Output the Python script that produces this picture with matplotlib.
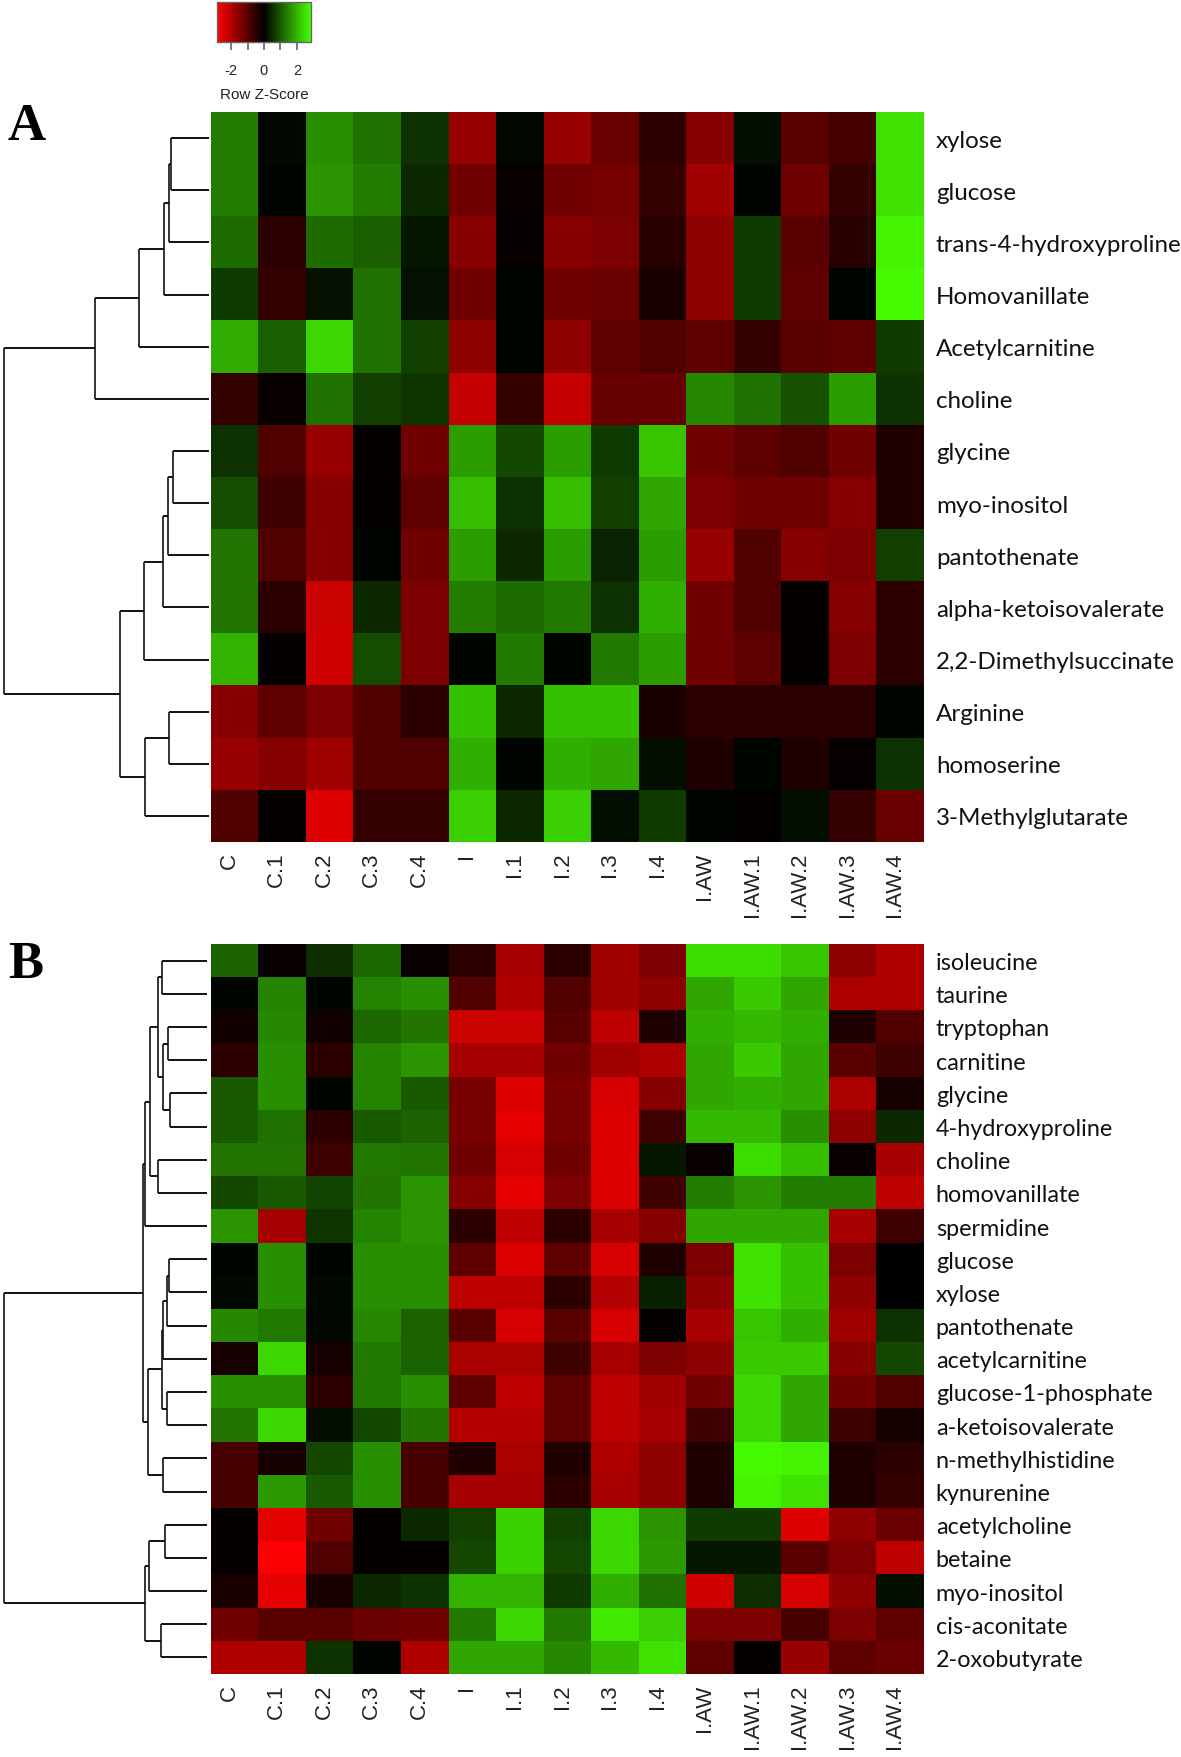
import numpy as np
import matplotlib
matplotlib.use("Agg")
import matplotlib.pyplot as plt
from matplotlib.colors import LinearSegmentedColormap, Normalize
import matplotlib.cm as cm

# ---------------- data ----------------
columns = ["C", "C.1", "C.2", "C.3", "C.4", "I", "I.1", "I.2", "I.3", "I.4",
           "I.AW", "I.AW.1", "I.AW.2", "I.AW.3", "I.AW.4"]

rows_a = ["xylose", "glucose", "trans-4-hydroxyproline", "Homovanillate",
          "Acetylcarnitine", "choline", "glycine", "myo-inositol", "pantothenate",
          "alpha-ketoisovalerate", "2,2-Dimethylsuccinate", "Arginine",
          "homoserine", "3-Methylglutarate"]

z_a = [
    [1.4, 0.1, 1.6, 1.25, 0.55, -1.7, 0.08, -1.7, -1.2, -0.5, -1.5, 0.15, -1.0, -0.8, 2.5],
    [1.4, 0.05, 1.65, 1.4, 0.45, -1.25, -0.1, -1.25, -1.35, -0.6, -1.8, 0.05, -1.25, -0.6, 2.5],
    [1.2, -0.5, 1.2, 1.05, 0.25, -1.5, -0.08, -1.5, -1.4, -0.45, -1.6, 0.65, -1.0, -0.45, 2.7],
    [0.65, -0.6, 0.2, 1.25, 0.2, -1.25, 0.05, -1.25, -1.2, -0.3, -1.6, 0.65, -1.05, 0.05, 2.8],
    [1.9, 1.05, 2.4, 1.25, 0.7, -1.6, 0.05, -1.6, -1.05, -0.9, -1.05, -0.6, -1.0, -1.05, 0.65],
    [-0.6, -0.1, 1.25, 0.7, 0.6, -2.2, -0.6, -2.2, -1.15, -1.15, 1.5, 1.25, 0.9, 1.75, 0.55],
    [0.55, -0.9, -1.7, -0.05, -1.25, 1.75, 0.8, 1.75, 0.65, 2.2, -1.25, -1.05, -0.9, -1.25, -0.35],
    [0.85, -0.7, -1.5, -0.05, -1.05, 2.1, 0.55, 2.1, 0.7, 1.85, -1.4, -1.25, -1.25, -1.5, -0.35],
    [1.3, -0.9, -1.5, 0.05, -1.25, 1.75, 0.45, 1.75, 0.4, 1.75, -1.7, -0.9, -1.5, -1.4, 0.7],
    [1.3, -0.5, -2.25, 0.45, -1.4, 1.4, 1.2, 1.35, 0.55, 1.95, -1.25, -0.9, -0.05, -1.5, -0.5],
    [2.0, -0.05, -2.3, 0.85, -1.4, 0.05, 1.35, 0.05, 1.35, 1.75, -1.25, -1.05, -0.05, -1.4, -0.5],
    [-1.5, -1.05, -1.4, -0.9, -0.5, 2.15, 0.45, 2.15, 2.15, -0.3, -0.5, -0.5, -0.5, -0.5, 0.05],
    [-1.7, -1.5, -1.8, -0.9, -0.9, 1.95, 0.05, 1.95, 1.85, 0.15, -0.35, 0.05, -0.35, -0.08, 0.55],
    [-0.9, -0.05, -2.45, -0.6, -0.6, 2.3, 0.45, 2.3, 0.15, 0.65, 0.05, -0.05, 0.15, -0.6, -1.2],
]

# row dendrogram A: (child, child, height); leaves 0..13, merge k -> 14+k
merges_a = [
    (0, 1, 38), (14, 2, 40), (15, 3, 45), (16, 4, 70), (17, 5, 114),
    (6, 7, 36), (19, 8, 41), (20, 9, 46), (21, 10, 65),
    (11, 12, 40), (23, 13, 64), (22, 24, 89), (18, 25, 205),
]

rows_b = ["isoleucine", "taurine", "tryptophan", "carnitine", "glycine",
          "4-hydroxyproline", "choline", "homovanillate", "spermidine", "glucose",
          "xylose", "pantothenate", "acetylcarnitine", "glucose-1-phosphate",
          "a-ketoisovalerate", "n-methylhistidine", "kynurenine", "acetylcholine",
          "betaine", "myo-inositol", "cis-aconitate", "2-oxobutyrate"]

z_b = [
    [1.1, -0.1, 0.5, 1.15, -0.1, -0.5, -1.85, -0.5, -1.8, -1.4, 2.45, 2.45, 2.2, -1.6, -1.95],
    [0.05, 1.45, 0.05, 1.45, 1.6, -0.9, -1.95, -0.9, -1.8, -1.6, 1.85, 2.25, 1.85, -1.95, -1.95],
    [-0.2, 1.5, -0.2, 1.15, 1.3, -2.25, -2.25, -1.0, -2.1, -0.35, 1.95, 2.05, 1.95, -0.35, -0.9],
    [-0.5, 1.6, -0.5, 1.45, 1.65, -1.85, -1.85, -1.25, -1.8, -1.95, 1.85, 2.25, 1.85, -1.0, -0.7],
    [1.0, 1.6, 0.05, 1.45, 1.0, -1.35, -2.45, -1.35, -2.4, -1.5, 1.85, 1.95, 1.85, -1.9, -0.25],
    [1.0, 1.25, -0.5, 1.0, 1.1, -1.35, -2.55, -1.35, -2.45, -0.7, 2.05, 2.05, 1.6, -1.6, 0.45],
    [1.3, 1.3, -0.7, 1.35, 1.3, -1.25, -2.4, -1.25, -2.45, 0.25, -0.1, 2.45, 2.15, -0.1, -1.85],
    [0.8, 1.0, 0.75, 1.3, 1.65, -1.5, -2.55, -1.4, -2.45, -0.7, 1.4, 1.65, 1.4, 1.4, -2.1],
    [1.65, -1.85, 0.6, 1.45, 1.65, -0.5, -2.1, -0.5, -1.85, -1.5, 1.85, 1.85, 1.85, -1.85, -0.7],
    [0.05, 1.6, 0.05, 1.6, 1.6, -1.05, -2.45, -1.05, -2.4, -0.35, -1.4, 2.5, 2.15, -1.4, -0.03],
    [0.1, 1.6, 0.1, 1.6, 1.6, -2.1, -2.1, -0.5, -2.0, 0.35, -1.6, 2.5, 2.15, -1.6, -0.03],
    [1.5, 1.35, 0.1, 1.5, 1.1, -1.0, -2.4, -1.0, -2.4, -0.05, -1.85, 2.2, 1.95, -1.8, 0.55],
    [-0.25, 2.4, -0.25, 1.35, 1.1, -1.9, -1.9, -0.7, -1.85, -1.4, -1.6, 2.25, 2.25, -1.5, 0.8],
    [1.6, 1.6, -0.5, 1.35, 1.6, -1.05, -2.1, -1.05, -2.1, -1.8, -1.25, 2.4, 1.85, -1.25, -0.9],
    [1.3, 2.4, 0.15, 0.8, 1.3, -2.0, -2.0, -1.05, -2.1, -1.85, -0.7, 2.4, 1.85, -0.7, -0.25],
    [-0.8, -0.25, 0.8, 1.6, -0.8, -0.35, -1.9, -0.35, -1.95, -1.6, -0.35, 2.8, 2.7, -0.35, -0.5],
    [-0.8, 1.7, 1.0, 1.6, -0.8, -1.85, -1.85, -0.5, -1.85, -1.6, -0.35, 2.7, 2.5, -0.35, -0.6],
    [-0.05, -2.55, -1.25, -0.05, 0.45, 0.7, 2.35, 0.7, 2.4, 1.65, 0.65, 0.65, -2.45, -1.6, -1.2],
    [-0.05, -2.8, -0.9, -0.05, -0.05, 0.8, 2.35, 0.8, 2.4, 1.7, 0.25, 0.25, -1.0, -1.4, -2.1],
    [-0.3, -2.55, -0.3, 0.45, 0.55, 2.0, 2.0, 0.65, 1.95, 1.25, -2.3, 0.5, -2.4, -1.6, 0.15],
    [-1.25, -1.0, -1.0, -1.2, -1.25, 1.35, 2.4, 1.35, 2.6, 2.3, -1.4, -1.4, -0.8, -1.4, -1.05],
    [-1.95, -1.95, 0.55, 0.05, -1.95, 1.85, 1.85, 1.5, 2.05, 2.5, -1.05, -0.05, -1.7, -1.05, -1.2],
]

# row dendrogram B: leaves 0..21, merge k -> 22+k
merges_b = [
    (0, 1, 45), (2, 3, 39), (4, 5, 37), (23, 24, 44), (22, 25, 49),
    (6, 7, 49), (26, 27, 57), (28, 8, 62),
    (9, 10, 38), (30, 11, 40), (31, 12, 44), (13, 14, 40), (32, 33, 45),
    (15, 16, 44), (34, 35, 59), (29, 36, 64),
    (17, 18, 42), (38, 19, 58), (20, 21, 46), (39, 40, 62), (37, 41, 203),
]

colorbar_ticks = [-2, -1, 0, 1, 2]
colorbar_ticklabels = ["-2", "", "0", "", "2"]
zmax = 2.85

# ---------------- styling ----------------
W, H = 1181, 1758
fig = plt.figure(figsize=(W / 100, H / 100), dpi=100)
cmap = LinearSegmentedColormap.from_list("redgreen", ["#FF0000", "#000000", "#48FF00"])
norm = Normalize(-zmax, zmax)

LABEL_FONT = ["Lato", "DejaVu Sans"]
COL_FONT = ["Liberation Sans", "DejaVu Sans"]


def fx(px):
    return px / W


def fy(px):
    return 1 - px / H


def draw_dendrogram(ax, merges, n):
    ys = {i: i + 0.5 for i in range(n)}
    hs = {i: 0.0 for i in range(n)}
    for k, (a, b, h) in enumerate(merges):
        for c in (a, b):
            ax.plot([hs[c], h], [ys[c], ys[c]], color="#111111", lw=1.4,
                    solid_capstyle="butt")
        ax.plot([h, h], [ys[a], ys[b]], color="#111111", lw=1.2,
                solid_capstyle="butt")
        ys[n + k] = (ys[a] + ys[b]) / 2
        hs[n + k] = h
    ax.set_ylim(n, 0)
    ax.axis("off")


def draw_panel(top_px, bottom_px, rows, z, merges, leaf_end_px, label_size):
    ax = fig.add_axes([fx(211), fy(bottom_px), fx(924) - fx(211), (bottom_px - top_px) / H])
    ax.imshow(np.array(z), cmap=cmap, norm=norm, aspect="auto", interpolation="nearest")
    for s in ax.spines.values():
        s.set_visible(False)
    ax.set_yticks(range(len(rows)))
    ax.set_yticklabels(rows, fontfamily=LABEL_FONT, fontsize=label_size, color="#111111")
    ax.yaxis.tick_right()
    ax.tick_params(axis="y", length=0, pad=8.5)
    ax.set_xticks(range(len(columns)))
    ax.set_xticklabels(columns, rotation=90, rotation_mode="anchor", ha="right",
                       va="baseline", fontfamily=COL_FONT, fontsize=16, color="#222222")
    ax.tick_params(axis="x", length=0, pad=7)

    dax = fig.add_axes([0, fy(bottom_px), fx(leaf_end_px), (bottom_px - top_px) / H])
    draw_dendrogram(dax, merges, len(rows))
    dax.set_xlim(leaf_end_px, 0)
    return ax


draw_panel(113, 843, rows_a, z_a, merges_a, 209, 17.4)
draw_panel(945, 1675, rows_b, z_b, merges_b, 207, 16.8)

# colour key
cax = fig.add_axes([fx(217), fy(43), fx(311) - fx(217), 40 / H])
sm = cm.ScalarMappable(norm=norm, cmap=cmap)
cb = fig.colorbar(sm, cax=cax, orientation="horizontal", ticks=colorbar_ticks)
cb.ax.set_xticklabels(colorbar_ticklabels, fontfamily=COL_FONT)
cb.ax.tick_params(length=6, width=1.2, color="#666666", labelsize=10.5,
                  labelcolor="#222222", pad=9)
cb.outline.set_edgecolor("#666666")
cb.outline.set_linewidth(1.0)
cb.set_label("Row Z-Score", fontsize=11, fontfamily=COL_FONT, color="#222222", labelpad=7)

# panel letters
fig.text(fx(8), fy(140), "A", fontfamily=["Liberation Serif"], fontweight="bold",
         fontsize=38, va="baseline", ha="left")
fig.text(fx(8), fy(978), "B", fontfamily=["Liberation Serif"], fontweight="bold",
         fontsize=38, va="baseline", ha="left")

fig.savefig("out.png", dpi=100, facecolor="white")
